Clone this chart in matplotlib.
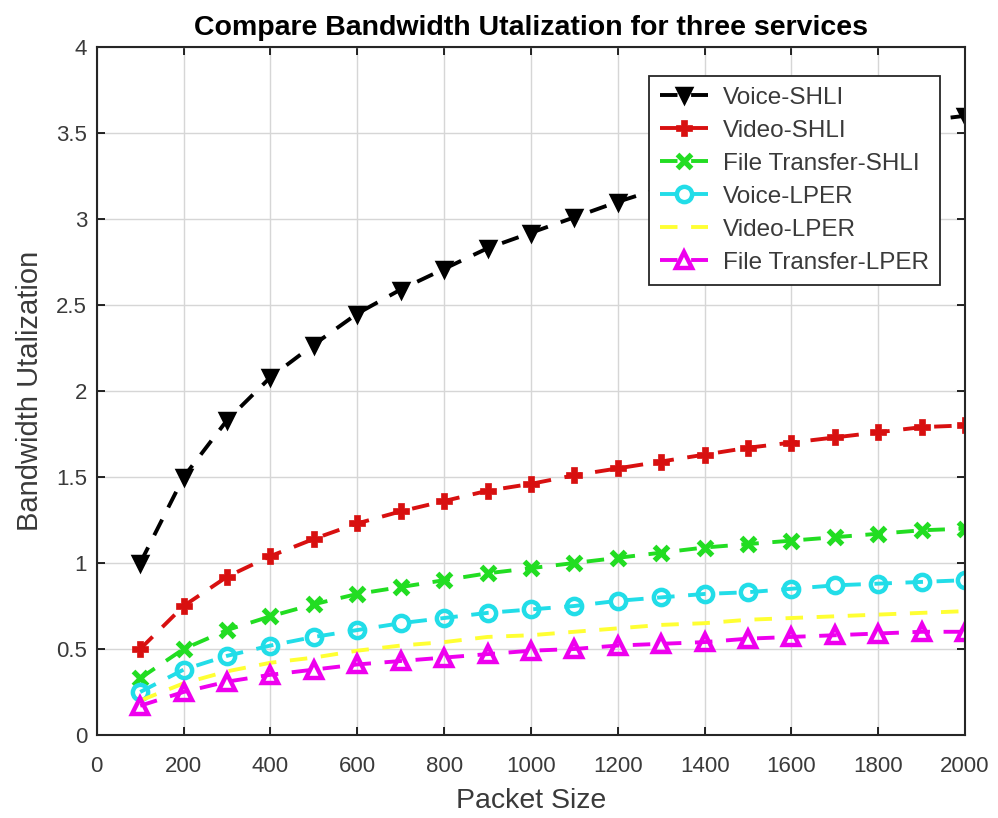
import matplotlib
matplotlib.use("Agg")
import matplotlib.pyplot as plt

plt.rcParams["font.family"] = ["Liberation Sans", "DejaVu Sans"]

packet_size = [100, 200, 300, 400, 500, 600, 700, 800, 900, 1000,
               1100, 1200, 1300, 1400, 1500, 1600, 1700, 1800, 1900, 2000]

voice_shli = [1.00, 1.50, 1.83, 2.08, 2.27, 2.45, 2.59, 2.71, 2.83, 2.92,
              3.01, 3.10, 3.18, 3.26, 3.33, 3.40, 3.46, 3.52, 3.57, 3.60]
video_shli = [0.50, 0.75, 0.92, 1.04, 1.14, 1.23, 1.30, 1.36, 1.42, 1.46,
              1.51, 1.55, 1.59, 1.63, 1.67, 1.70, 1.73, 1.76, 1.79, 1.80]
file_shli = [0.33, 0.50, 0.61, 0.69, 0.76, 0.82, 0.86, 0.90, 0.94, 0.97,
             1.00, 1.03, 1.06, 1.09, 1.11, 1.13, 1.15, 1.17, 1.19, 1.20]
voice_lper = [0.25, 0.38, 0.46, 0.52, 0.57, 0.61, 0.65, 0.68, 0.71, 0.73,
              0.75, 0.78, 0.80, 0.82, 0.83, 0.85, 0.87, 0.88, 0.89, 0.90]
video_lper = [0.20, 0.30, 0.37, 0.42, 0.45, 0.49, 0.52, 0.54, 0.57, 0.58,
              0.60, 0.62, 0.64, 0.65, 0.67, 0.68, 0.69, 0.70, 0.71, 0.72]
file_lper = [0.17, 0.25, 0.31, 0.35, 0.38, 0.41, 0.43, 0.45, 0.47, 0.49,
             0.50, 0.52, 0.53, 0.54, 0.56, 0.57, 0.58, 0.59, 0.60, 0.60]

fig = plt.figure(figsize=(9.98, 8.18), dpi=100)
ax = fig.add_axes([0.097, 0.1015, 0.870, 0.841])

lw = 2.8
dash = (4.5, 3.5)
ax.plot(packet_size, voice_shli, color="black", lw=lw, dashes=dash,
        marker="v", ms=10, mew=2.5, label="Voice-SHLI")
ax.plot(packet_size, video_shli, color="#d81010", lw=lw, dashes=dash,
        marker="P", ms=12, mew=0.5, label="Video-SHLI")
ax.plot(packet_size, file_shli, color="#22dd22", lw=lw, dashes=dash,
        marker="x", ms=10, mew=3.8, label="File Transfer-SHLI")
ax.plot(packet_size, voice_lper, color="#22dde8", lw=lw, dashes=dash,
        marker="o", ms=11, mew=3.2, mfc="none", label="Voice-LPER")
ax.plot(packet_size, video_lper, color="#ffff33", lw=lw, dashes=dash,
        label="Video-LPER")
ax.plot(packet_size, file_lper, color="#ee00ee", lw=lw, dashes=dash,
        marker="^", ms=11, mew=3.2, mfc="none", label="File Transfer-LPER")

ax.set_xlim(0, 2000)
ax.set_ylim(0, 4)
ax.set_xticks(range(0, 2001, 200))
ax.set_yticks([0, 0.5, 1, 1.5, 2, 2.5, 3, 3.5, 4])
ax.set_yticklabels(["0", "0.5", "1", "1.5", "2", "2.5", "3", "3.5", "4"])
ax.grid(True, color="#d6d6d6", lw=1)
ax.set_axisbelow(True)
ax.tick_params(direction="in", top=True, right=True, labelsize=16,
               labelcolor="#3a3a3a", length=6, width=1.2)
ax.tick_params(axis="x", pad=15)
ax.tick_params(axis="y", pad=7)
for s in ax.spines.values():
    s.set_linewidth(1.5)
    s.set_color("#262626")

ax.set_xlabel("Packet Size", fontsize=20.5, color="#3a3a3a", labelpad=8)
ax.set_ylabel("Bandwidth Utalization", fontsize=21, color="#3a3a3a",
              labelpad=9)
ax.set_title("Compare Bandwidth Utalization for three services",
             fontsize=20.5, fontweight="bold", pad=9)

leg = ax.legend(loc="upper right", bbox_to_anchor=(0.971, 0.958),
                fontsize=17.5, fancybox=False, framealpha=1,
                edgecolor="#262626", handlelength=2.0, labelspacing=0.45,
                borderpad=0.45, handletextpad=0.6, borderaxespad=0)
leg.get_frame().set_linewidth(1.3)
for t in leg.get_texts():
    t.set_color("#3a3a3a")

fig.savefig("out.png", dpi=100)
